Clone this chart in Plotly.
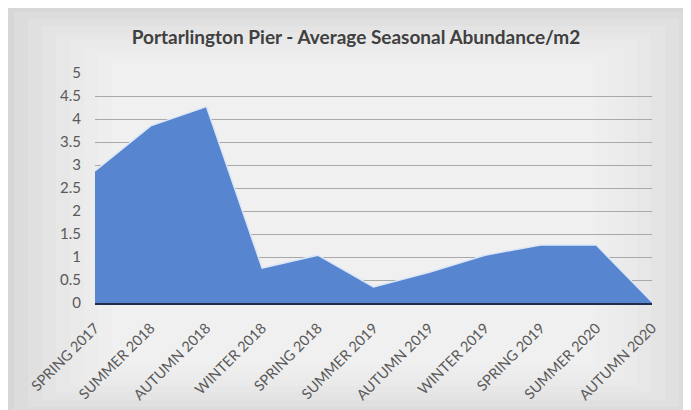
import plotly.graph_objects as go

categories = ["SPRING 2017", "SUMMER 2018", "AUTUMN 2018", "WINTER 2018", "SPRING 2018",
              "SUMMER 2019", "AUTUMN 2019", "WINTER 2019", "SPRING 2019", "SUMMER 2020",
              "AUTUMN 2020"]
abundance = [2.87, 3.85, 4.27, 0.76, 1.04, 0.35, 0.67, 1.04, 1.26, 1.26, 0.02]
y_ticks = [0, 0.5, 1, 1.5, 2, 2.5, 3, 3.5, 4, 4.5, 5]
y_tick_labels = ["0", "0.5", "1", "1.5", "2", "2.5", "3", "3.5", "4", "4.5", "5"]

W, H = 691, 410
L, R, T, B = 87, 47, 65, 115
pw, ph = W - L - R, H - T - B

fig = go.Figure()
fig.add_trace(go.Scatter(
    x=categories, y=abundance, mode="lines", fill="tozeroy",
    fillcolor="#5885cf", line=dict(color="#dbe6f6", width=1.5),
    hoverinfo="x+y", showlegend=False,
))

# soft vignette background (lighter toward the centre)
shapes = []
for i in range(8):
    ix = 6 + i * 14
    iy = 4 + i * 7
    shapes.append(dict(
        type="rect", xref="paper", yref="paper", layer="below",
        x0=(ix - L) / pw, x1=(W - ix - L) / pw,
        y0=(H - B - (H - iy)) / ph, y1=(H - B - iy) / ph,
        fillcolor="white", opacity=0.13, line=dict(width=0),
    ))

fig.update_layout(
    width=W, height=H,
    margin=dict(l=L, r=R, t=T, b=B),
    paper_bgcolor="#d7d7d7",
    plot_bgcolor="rgba(0,0,0,0)",
    shapes=shapes,
    font=dict(family="Lato, 'Open Sans', sans-serif", color="#595959"),
    title=dict(
        text="<b>Portarlington Pier - Average Seasonal Abundance/m2</b>",
        x=(356 - 8) / W, xanchor="center", y=1 - 29 / H, yanchor="middle",
        xref="container",
        font=dict(family="Lato, 'Open Sans', sans-serif", size=19, color="#404040"),
    ),
    xaxis=dict(
        type="category", range=[0, len(categories) - 1],
        tickangle=-45, tickfont=dict(size=14.5, color="#595959"),
        showgrid=False, showline=True, linecolor="#1f2c4a", linewidth=2,
        ticks="", zeroline=False, ticklabelstandoff=9,
    ),
    yaxis=dict(
        range=[0, 5], tickvals=y_ticks, ticktext=y_tick_labels,
        tickfont=dict(size=15, color="#595959"),
        showgrid=True, gridcolor="#a9a9a9", gridwidth=1,
        zeroline=False, showline=False, ticks="", ticklabelstandoff=13,
    ),
)

fig.write_html("out.html")
